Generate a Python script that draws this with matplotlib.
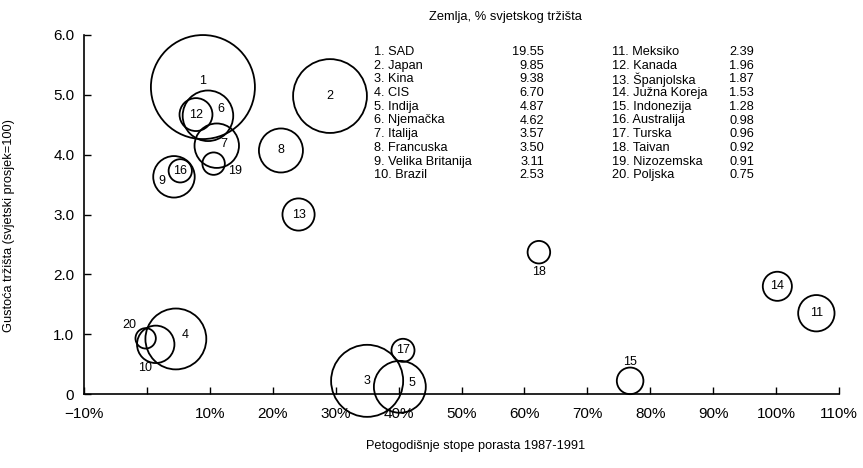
import matplotlib
matplotlib.use("Agg")
import matplotlib.pyplot as plt
import numpy as np

plt.rcParams['font.family'] = ['Liberation Sans', 'DejaVu Sans']

# ---- data ----
ids = list(range(1, 21))
countries = ["SAD", "Japan", "Kina", "CIS", "Indija", "Njemačka", "Italija",
             "Francuska", "Velika Britanija", "Brazil", "Meksiko", "Kanada",
             "Španjolska", "Južna Koreja", "Indonezija", "Australija", "Turska",
             "Taivan", "Nizozemska", "Poljska"]
share = [19.55, 9.85, 9.38, 6.70, 4.87, 4.62, 3.57, 3.50, 3.11, 2.53,
         2.39, 1.96, 1.87, 1.53, 1.28, 0.98, 0.96, 0.92, 0.91, 0.75]
share_txt = ["19.55", "9.85", "9.38", "6.70", "4.87", "4.62", "3.57", "3.50", "3.11", "2.53",
             "2.39", "1.96", "1.87", "1.53", "1.28", "0.98", "0.96", "0.92", "0.91", "0.75"]
growth = [8.9, 29.1, 35.0, 4.6, 40.2, 9.7, 11.1, 21.3, 4.3, 1.4,
          106.4, 7.8, 24.1, 100.2, 76.8, 5.3, 40.7, 62.3, 10.6, -0.2]
density = [5.13, 4.98, 0.22, 0.92, 0.12, 4.65, 4.15, 4.07, 3.63, 0.83,
           1.35, 4.67, 3.00, 1.80, 0.22, 3.73, 0.73, 2.37, 3.85, 0.93]

xticks = [-10, 0, 10, 20, 30, 40, 50, 60, 70, 80, 90, 100, 110]
xticklabels = ["\u221210%", "", "10%", "20%", "30%", "40%", "50%", "60%",
               "70%", "80%", "90%", "100%", "110%"]
yticks = [0, 1, 2, 3, 4, 5, 6]
yticklabels = ["0", "1.0", "2.0", "3.0", "4.0", "5.0", "6.0"]

# label offsets (pixels) relative to bubble centre
lab_off = {1: (0, 6), 4: (9, 4), 5: (12, 4), 6: (13, 7), 7: (7, 2), 9: (-12, -4),
           10: (-11, -24), 15: (0, 19), 18: (0, -20), 19: (21, -7), 20: (-16, 13)}

W, H = 863, 468
fig = plt.figure(figsize=(W / 100, H / 100), dpi=100)
ax = fig.add_axes([84 / W, 1 - 394 / H, (839 - 84) / W, (394 - 35) / H])
ax.set_xlim(-10, 110)
ax.set_ylim(0, 6)

sizes = [286.9 * s for s in share]
ax.scatter(growth, density, s=sizes, facecolors='none', edgecolors='black',
           linewidths=1.3, clip_on=False, zorder=3)

for i, x, y in zip(ids, growth, density):
    dx, dy = lab_off.get(i, (0, 0))
    ax.annotate(str(i), (x, y), xytext=(dx, dy), textcoords='offset pixels',
                ha='center', va='center', fontsize=9, zorder=4,
                annotation_clip=False)

for side in ['top', 'right']:
    ax.spines[side].set_visible(False)
for side in ['left', 'bottom']:
    ax.spines[side].set_linewidth(1.2)

ax.set_xticks(xticks)
ax.set_xticklabels(xticklabels, fontsize=11)
ax.set_yticks(yticks)
ax.set_yticklabels(yticklabels, fontsize=11)
ax.tick_params(axis='x', direction='in', length=5, width=1, pad=9)
ax.tick_params(axis='y', direction='in', length=5, width=1, pad=7)

fig.text(476 / W, 1 - 446 / H, "Petogodišnje stope porasta 1987-1991",
         ha='center', va='center', fontsize=9.2)
fig.text(9 / W, 1 - 225 / H, "Gustoća tržišta (svjetski prosjek=100)",
         ha='center', va='center', rotation=90, fontsize=9.2)

# legend table
fig.text(505 / W, 1 - 17 / H, "Zemlja, % svjetskog tržišta",
         ha='center', va='center', fontsize=9.3)
row0, dy = 52, 13.7
for k in range(10):
    yy = 1 - (row0 + k * dy) / H
    fig.text(374 / W, yy, f"{ids[k]}. {countries[k]}", ha='left', va='center', fontsize=9.2)
    fig.text(544 / W, yy, share_txt[k], ha='right', va='center', fontsize=9.2)
    j = k + 10
    fig.text(612 / W, yy, f"{ids[j]}. {countries[j]}", ha='left', va='center', fontsize=9.2)
    fig.text(729 / W, yy, share_txt[j], ha='left', va='center', fontsize=9.2)

fig.savefig("out.png", dpi=100, facecolor='white')
